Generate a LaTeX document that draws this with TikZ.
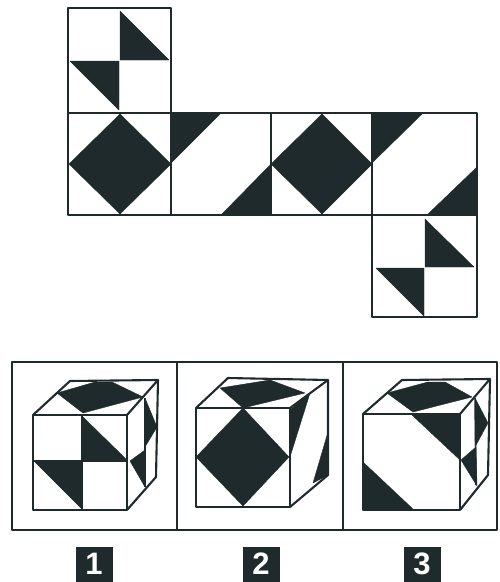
\documentclass[tikz,border=0pt]{standalone}
\usepackage{fontspec}
\setmainfont{Liberation Sans}
\usetikzlibrary{positioning}
\definecolor{ink}{HTML}{1E2A2C}
\tikzset{
  edge/.style={draw=ink, line width=2.1pt, line join=round},
  thinedge/.style={draw=ink, line width=1.5pt},
  shade/.style={fill=ink, draw=ink, line width=0.4pt, line join=round},
  numbox/.style={fill=ink, text=white, minimum width=37pt, minimum height=35pt, inner sep=0pt, font=\fontsize{31}{31}\selectfont\bfseries},
}

\begin{document}
\begin{tikzpicture}[x=1pt, y=-1pt]

  \useasboundingbox (0,0) rectangle (499,582);

  % net
  \coordinate (N0) at (68,113);
  \coordinate (N1) at (171,113);
  \coordinate (N2) at (271,113);
  \coordinate (N3) at (372,113);
  \coordinate (N4) at (477,113);

  \fill[shade] (120,11) -- (120,60) -- (169,60) -- cycle;
  \fill[shade] (70,61) -- (119,61) -- (119,110) -- cycle;
  \fill[shade] (120,114) -- (171,164) -- (120,214) -- (69,164) -- cycle;
  \fill[shade] (171,114) -- (220,114) -- (171,163) -- cycle;
  \fill[shade] (271,164) -- (271,215) -- (221,215) -- cycle;
  \fill[shade] (322,114) -- (372,164) -- (322,214) -- (271,164) -- cycle;
  \fill[shade] (372,114) -- (422,114) -- (372,163) -- cycle;
  \fill[shade] (477,167) -- (477,215) -- (427,215) -- cycle;
  \fill[shade] (425,219) -- (425,267) -- (474,267) -- cycle;
  \fill[shade] (376,268) -- (424,268) -- (424,316) -- cycle;

  \draw[edge] (N0) rectangle (N4 |- 0,215);
  \draw[edge] (N0) -- (68,8) -- (171,8) -- (N1);
  \draw[edge] (N1) -- (171,215) (N2) -- (271,215) (N3) -- (372,215);
  \draw[edge] (372,215) -- (372,317) -- (477,317) -- (477,215);

  % answer panel
  \draw[edge] (12,362) rectangle (497,530);
  \draw[edge] (177,362) -- (177,530);
  \draw[edge] (343,362) -- (343,530);

  % cube 1
  \fill[shade] (57,393) -- (95,382) -- (112,382) -- (143,397) -- (83,413) -- cycle;
  \fill[shade] (83,417) -- (83,460) -- (127,460) -- cycle;
  \fill[shade] (35,462) -- (81,462) -- (81,508) -- cycle;
  \fill[shade] (145,398) -- (157,427) -- (145,447) -- cycle;
  \fill[shade] (130,461) -- (145,450) -- (145,487) -- cycle;
  \draw[edge] (33,415) rectangle (127,510);
  \draw[edge] (33,415) -- (70,381) -- (158,380) -- (127,415);
  \draw[edge] (158,380) -- (156,477) -- (127,510);
  \draw[thinedge] (82,415) -- (82,510) (33,461) -- (127,461);
  \draw[thinedge] (145,398) -- (145,487);

  % cube 2
  \fill[shade] (220,388) -- (270,380) -- (305,393) -- (243,408) -- cycle;
  \fill[shade] (243,408) -- (289,457) -- (243,506) -- (196,457) -- cycle;
  \fill[shade] (310,393) -- (290,410) -- (290,457) -- cycle;
  \fill[shade] (328,432) -- (313,483) -- (328,475) -- cycle;
  \draw[edge] (196,408) rectangle (290,507);
  \draw[edge] (196,408) -- (228,378) -- (328,380) -- (290,408);
  \draw[edge] (328,380) -- (328,475) -- (290,507);

  % cube 3
  \fill[shade] (387,393) -- (428,382) -- (445,382) -- (472,397) -- (413,412) -- cycle;
  \fill[shade] (412,415) -- (460,415) -- (460,460) -- cycle;
  \fill[shade] (363,462) -- (363,510) -- (414,510) -- cycle;
  \fill[shade] (475,398) -- (488,423) -- (475,447) -- cycle;
  \fill[shade] (461,460) -- (476,447) -- (477,486) -- cycle;
  \draw[edge] (363,414) rectangle (460,510);
  \draw[edge] (363,414) -- (402,380) -- (490,379) -- (460,414);
  \draw[edge] (490,379) -- (488,475) -- (460,510);
  \draw[thinedge] (475,398) -- (476,485);

  % numbers
  \node[numbox] (one) at (94,564) {1};
  \node[numbox] (two) at (261,564) {2};
  \node[numbox] (three) at (422,564) {3};

\end{tikzpicture}
\end{document}
